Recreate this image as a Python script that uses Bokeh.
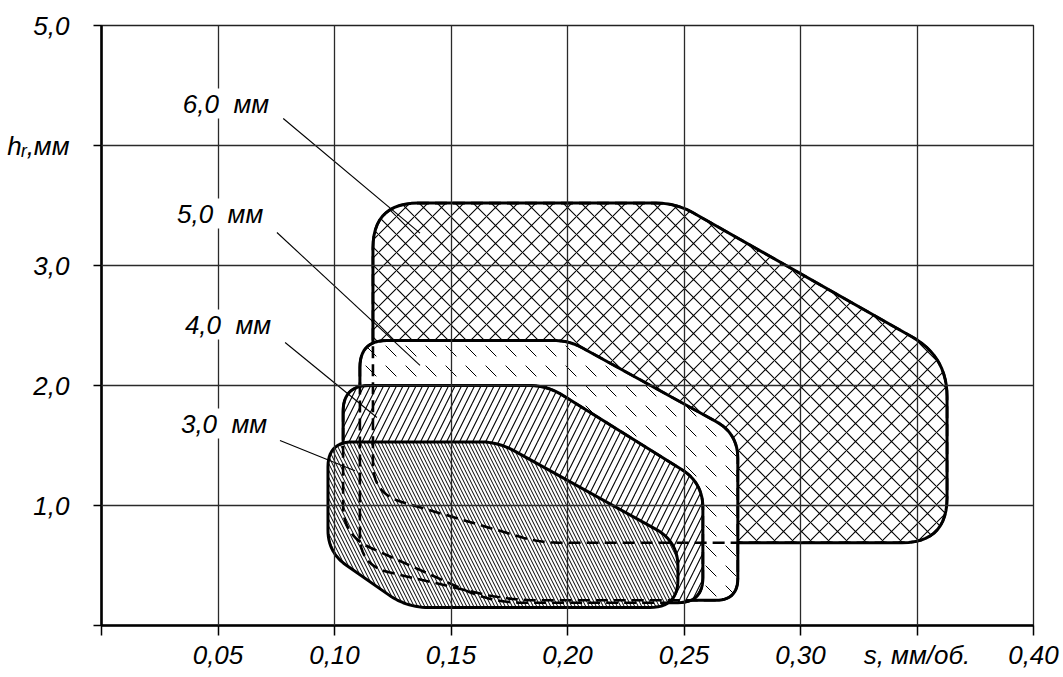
import numpy as np
from bokeh.plotting import figure
from bokeh.models import Range1d, FixedTicker, Label
from bokeh.embed import file_html
from bokeh.resources import INLINE

# ---------------- data ----------------
x_ticks = [0, 0.05, 0.10, 0.15, 0.20, 0.25, 0.30, 0.35, 0.40]
x_tick_labels = ["", "0,05", "0,10", "0,15", "0,20", "0,25", "0,30", "s, мм/об.", "0,40"]
y_ticks = [0, 1, 2, 3, 4, 5]
y_tick_labels = ["", "1,0", "2,0", "3,0", "hᵣ,мм", "5,0"]

zone_names = ["6,0\u00a0\u00a0мм", "5,0\u00a0\u00a0мм", "4,0\u00a0\u00a0мм", "3,0\u00a0\u00a0мм"]

# zone outlines: polygon vertices (s, hr) before corner rounding
s_60 = [0.1165, 0.2466, 0.3629, 0.3629, 0.1882, 0.1165]
h_60 = [3.52, 3.52, 2.24, 0.69, 0.69, 1.10]
s_50 = [0.1109, 0.2006, 0.2731, 0.2731, 0.175, 0.1109]
h_50 = [2.375, 2.375, 1.60, 0.21, 0.21, 0.50]
s_40 = [0.1037, 0.1912, 0.2581, 0.2581, 0.168, 0.1037]
h_40 = [2.0, 2.0, 1.19, 0.19, 0.19, 0.75]
s_30 = [0.0972, 0.1702, 0.2474, 0.2474, 0.131, 0.0972]
h_30 = [1.53, 1.53, 0.70, 0.15, 0.15, 0.61]

# label anchors and leader lines
label_s = [0.0534, 0.0509, 0.0543, 0.0526]
label_h = [4.35, 3.433, 2.508, 1.683]
lead_s0 = [0.078, 0.0753, 0.0788, 0.0766]
lead_h0 = [4.225, 3.275, 2.358, 1.542]
lead_s1 = [0.1367, 0.1367, 0.1182, 0.1088]
lead_h1 = [3.27, 2.167, 1.733, 1.29]

# ---------------- style ----------------
W, H = 1063, 677
ML, MT, MR, MB = 101, 25, 30, 52
X0, X1, Y0, Y1 = 0.0, 0.40, 0.0, 5.0
kx = (W - ML - MR) / (X1 - X0)
ky = (H - MT - MB) / (Y1 - Y0)

corner_r = {
    "60": [45, 20, 40, 45, 20, 30],
    "50": [27, 15, 25, 22, 30, 30],
    "40": [26, 18, 25, 25, 30, 30],
    "30": [25, 18, 25, 28, 22, 22],
}


def rounded(sx, hy, radii, n=14):
    P = np.column_stack([np.asarray(sx) * kx, np.asarray(hy) * ky])
    m = len(P)
    out = []
    t = np.linspace(0, 1, n)[:, None]
    for i in range(m):
        A, V, B = P[i - 1], P[i], P[(i + 1) % m]
        la, lb = np.linalg.norm(A - V), np.linalg.norm(B - V)
        r = min(radii[i], 0.48 * la, 0.48 * lb)
        p1 = V + (A - V) / la * r
        p2 = V + (B - V) / lb * r
        pts = (1 - t) ** 2 * p1 + 2 * t * (1 - t) * V + t ** 2 * p2
        out.append(pts)
    out = np.vstack(out)
    out = np.vstack([out, out[:1]])
    return list(out[:, 0] / kx), list(out[:, 1] / ky)


p = figure(width=W, height=H, output_backend="svg", toolbar_location=None,
           x_range=Range1d(X0, X1), y_range=Range1d(Y0, Y1),
           min_border_left=ML, min_border_right=MR,
           min_border_top=MT, min_border_bottom=MB)
p.background_fill_color = "white"
p.border_fill_color = "white"
p.outline_line_color = "#222222"
p.outline_line_width = 1.3

# grid on top of fills
for g, tk in ((p.xgrid, x_ticks), (p.ygrid, y_ticks)):
    g.ticker = FixedTicker(ticks=tk)
    g.grid_line_color = "#2a2a2a"
    g.grid_line_width = 1.3
    g.level = "guide"

font = "Liberation Sans"
for ax, tk, lab in ((p.xaxis, x_ticks, x_tick_labels), (p.yaxis, y_ticks, y_tick_labels)):
    ax.ticker = FixedTicker(ticks=tk)
    ax.major_label_overrides = {t: l for t, l in zip(tk, lab)}
    ax.axis_line_width = 2.6
    ax.axis_line_color = "black"
    ax.major_tick_line_color = "black"
    ax.major_tick_line_width = 1.5
    ax.major_tick_in = 0
    ax.minor_tick_line_color = None
    ax.major_label_text_font = font
    ax.major_label_text_font_style = "italic"
    ax.major_label_text_color = "black"
    ax.major_label_text_font_size = "26px"
p.xaxis.major_tick_out = 10
p.xaxis.major_label_standoff = 4
p.yaxis.major_tick_out = 8
p.yaxis.major_label_standoff = 24

zones = [
    (s_60, h_60, corner_r["60"], "diagonal_cross", 18, 1.1),
    (s_50, h_50, corner_r["50"], "left_diagonal_dash", 20, 1.0),
    (s_40, h_40, corner_r["40"], "right_diagonal_line", 13, 1.1),
    (s_30, h_30, corner_r["30"], "left_diagonal_line", 7, 1.0),
]
outlines = []
for sx, hy, rr, pat, sc, wt in zones:
    xs, ys = rounded(sx, hy, rr)
    outlines.append((xs, ys))
    p.patch(xs, ys, fill_color="white", line_color="black", line_width=3,
            hatch_pattern=pat, hatch_scale=sc, hatch_weight=wt, hatch_color="black")

# hidden outline parts shown dashed
for xs, ys in outlines[:3]:
    p.line(xs, ys, line_color="black", line_width=2.6, line_dash="12 6")

# leader lines
p.segment(x0=lead_s0, y0=lead_h0, x1=lead_s1, y1=lead_h1, line_color="black", line_width=1.1)

for name, sx, hy in zip(zone_names, label_s, label_h):
    p.add_layout(Label(x=sx, y=hy, text=name, text_align="center", text_baseline="middle",
                       text_font=font, text_font_style="italic", text_font_size="26px",
                       text_color="black", background_fill_color="white"))

open("out.html", "w").write(file_html(p, INLINE))
